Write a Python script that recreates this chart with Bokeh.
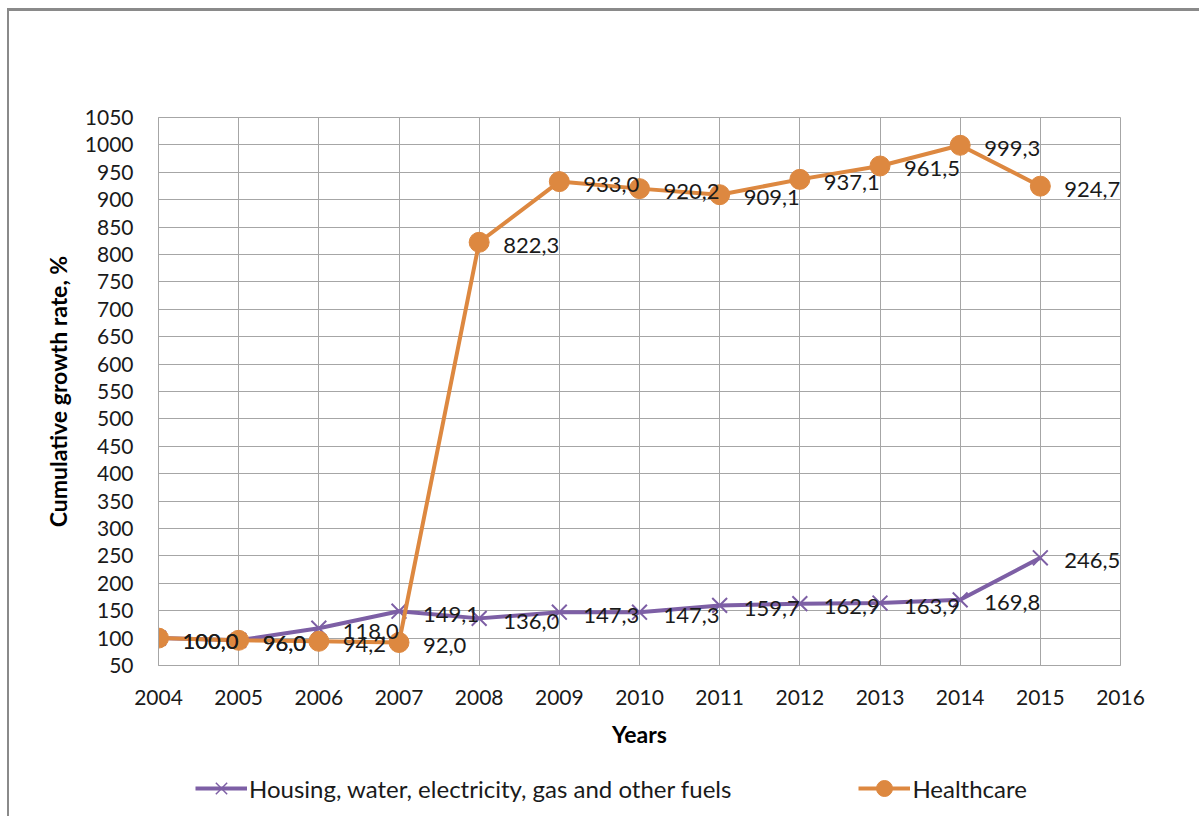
from bokeh.plotting import figure
from bokeh.layouts import column
from bokeh.models import ColumnDataSource, Legend, LegendItem, FixedTicker, Range1d, LabelSet
from bokeh.core.properties import value
from bokeh.embed import file_html
from bokeh.resources import INLINE

years = [2004, 2005, 2006, 2007, 2008, 2009, 2010, 2011, 2012, 2013, 2014, 2015]
housing = [100.0, 96.0, 118.0, 149.1, 136.0, 147.3, 147.3, 159.7, 162.9, 163.9, 169.8, 246.5]
healthcare = [100.0, 96.0, 94.2, 92.0, 822.3, 933.0, 920.2, 909.1, 937.1, 961.5, 999.3, 924.7]
x_ticks = list(range(2004, 2017))
y_ticks = list(range(50, 1051, 50))
series_names = ["Housing, water, electricity, gas and other fuels", "Healthcare"]

PURPLE = "#7D5FA5"
ORANGE = "#DD8840"
GRID = "#A6A6A6"
FONT = "Lato"

def fmt(v):
    return f"{v:.1f}".replace(".", ",")

src_h = ColumnDataSource(dict(x=years, y=housing, lab=[fmt(v) for v in housing]))
src_c = ColumnDataSource(dict(x=years, y=healthcare, lab=[fmt(v) for v in healthcare]))

p = figure(width=1190, height=745, output_backend="svg", toolbar_location=None,
           x_range=Range1d(2004, 2016), y_range=Range1d(50, 1050),
           min_border_left=149, min_border_right=79, min_border_top=106, min_border_bottom=91)

p.outline_line_color = GRID
p.outline_line_width = 1
p.background_fill_color = "white"
p.border_fill_color = "white"

for ax in (p.xaxis[0], p.yaxis[0]):
    ax.axis_line_color = GRID
    ax.major_tick_line_color = None
    ax.minor_tick_line_color = None
    ax.major_tick_out = 0
    ax.major_tick_in = 0
    ax.major_label_text_font = FONT
    ax.major_label_text_font_size = "21px"
    ax.major_label_text_color = "#1a1a1a"
    ax.axis_label_text_font = FONT
    ax.axis_label_text_font_size = "23px"
    ax.axis_label_text_font_style = "bold"
    ax.axis_label_text_color = "black"

p.xaxis[0].ticker = FixedTicker(ticks=x_ticks)
p.yaxis[0].ticker = FixedTicker(ticks=y_ticks)
p.xaxis[0].axis_label = "Years"
p.yaxis[0].axis_label = "Cumulative growth rate, %"
p.xaxis[0].major_label_standoff = 24
p.xaxis[0].axis_label_standoff = 12
p.yaxis[0].major_label_standoff = 25
p.yaxis[0].axis_label_standoff = 10

p.xgrid[0].grid_line_color = GRID
p.ygrid[0].grid_line_color = GRID
p.xgrid[0].ticker = FixedTicker(ticks=x_ticks)
p.ygrid[0].ticker = FixedTicker(ticks=y_ticks)

p.line("x", "y", source=src_h, line_color=PURPLE, line_width=4)
p.scatter("x", "y", source=src_h, marker="x", size=21, line_color=PURPLE, line_width=2)
p.line("x", "y", source=src_c, line_color=ORANGE, line_width=4)
p.scatter("x", "y", source=src_c, marker="circle", size=20, fill_color=ORANGE, line_color=ORANGE)

for src in (src_h, src_c):
    lbl = LabelSet(x="x", y="y", text="lab", source=src, x_offset=24, y_offset=-3,
                   text_align="left", text_baseline="middle",
                   text_font=value(FONT), text_font_size=value("22px"), text_color="#1a1a1a")
    p.add_layout(lbl)

# legend strip (its plot area shows nothing; the series lie outside its ranges)
p2 = figure(width=1190, height=60, output_backend="svg", toolbar_location=None,
            x_range=Range1d(0, 1), y_range=Range1d(0, 1),
            min_border_left=0, min_border_right=0, min_border_top=0, min_border_bottom=0)
p2.axis.visible = False
p2.grid.visible = False
p2.outline_line_color = None
p2.background_fill_color = "white"
p2.border_fill_color = "white"
g1 = p2.line("x", "y", source=src_h, line_color=PURPLE, line_width=4)
g2 = p2.scatter("x", "y", source=src_h, marker="x", size=20, line_color=PURPLE, line_width=1.5)
g3 = p2.line("x", "y", source=src_c, line_color=ORANGE, line_width=4)
g4 = p2.scatter("x", "y", source=src_c, marker="circle", size=18, fill_color=ORANGE, line_color=ORANGE)

leg = Legend(items=[LegendItem(label=series_names[0], renderers=[g1, g2]),
                    LegendItem(label=series_names[1], renderers=[g3, g4])],
             location=(37, 8), orientation="horizontal")
leg.glyph_width = 52
leg.glyph_height = 40
leg.label_standoff = 2
leg.spacing = 127
leg.padding = 0
leg.margin = 0
leg.border_line_color = None
leg.background_fill_alpha = 0
leg.label_text_font = FONT
leg.label_text_font_size = "24px"
leg.label_text_color = "#1a1a1a"
leg.label_height = 40
p2.add_layout(leg)

layout = column(p, p2, spacing=0,
                styles={"margin-left": "7px", "margin-top": "8px",
                        "border-top": "3px solid #8A8A8A", "border-left": "2px solid #8A8A8A"})

open("out.html", "w").write(file_html(layout, INLINE))
